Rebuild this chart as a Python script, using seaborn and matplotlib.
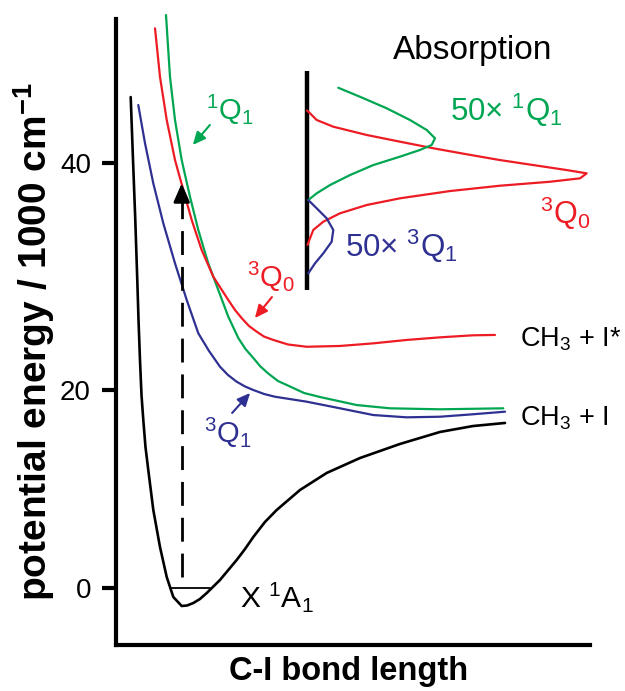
import numpy as np
import pandas as pd
import matplotlib
matplotlib.use("Agg")
import matplotlib.pyplot as plt
import seaborn as sns

# ---------------- data ----------------
# bond length in arbitrary units, energy in 1000 cm^-1
x_ground = [0.310, 0.359, 0.407, 0.449, 0.475, 0.506, 0.538, 0.576, 0.622, 0.681,
            0.787, 0.928, 1.070, 1.209, 1.386, 1.498, 1.631, 1.772, 1.914, 2.194,
            2.546, 2.722, 2.897, 3.143, 3.390, 3.882, 4.445, 5.148, 5.992, 6.835,
            7.532, 8.207]
e_ground = [45.81, 40.26, 34.98, 29.69, 26.17, 22.64, 19.49, 16.97, 14.24, 11.92,
            7.88, 4.14, 1.11, -0.91, -1.82, -1.77, -1.52, -1.11, -0.51, 0.81,
            2.83, 3.94, 5.15, 6.67, 7.88, 9.90, 11.62, 13.13, 14.55, 15.76,
            16.36, 16.67]

x_3q1 = [0.470, 0.612, 0.787, 0.998, 1.245, 1.492, 1.736, 1.962, 2.194, 2.363,
         2.546, 2.722, 2.897, 3.122, 3.354, 4.023, 4.726, 5.428, 6.133, 6.835,
         7.538, 8.207]
e_3q1 = [45.11, 41.74, 38.21, 34.69, 31.16, 27.93, 25.00, 23.44, 22.05, 21.32,
         20.73, 20.31, 20.00, 19.60, 19.32, 18.82, 18.15, 17.47, 17.24, 17.30,
         17.55, 17.81]

x_1q1 = [1.055, 1.139, 1.245, 1.386, 1.561, 1.736, 1.947, 2.158, 2.369, 2.580,
         2.732, 2.897, 3.038, 3.207, 3.418, 3.671, 3.966, 4.304, 5.078, 5.781,
         6.835, 8.171]
e_1q1 = [53.04, 47.60, 43.79, 40.26, 37.03, 34.10, 31.16, 28.81, 26.46, 24.58,
         23.61, 22.82, 22.11, 21.47, 20.79, 20.31, 19.70, 19.29, 18.48, 18.15,
         18.05, 18.15]

x_3q0 = [0.823, 0.928, 1.070, 1.245, 1.420, 1.597, 1.808, 2.053, 2.369, 2.511,
         2.658, 2.806, 2.968, 3.122, 3.319, 3.629, 4.023, 4.726, 5.428, 6.133,
         6.835, 7.538, 7.996]
e_3q0 = [51.87, 47.60, 43.79, 40.26, 37.62, 34.98, 32.33, 29.98, 27.93, 27.05,
         26.30, 25.64, 25.14, 24.71, 24.41, 24.01, 23.81, 23.88, 24.11, 24.41,
         24.64, 24.82, 24.85]

# absorption spectra: energy vs. intensity (arb. units)
abs_base = 4.023
abs_span = [28.81, 48.11]
e_abs_3q0 = [44.63, 44.38, 43.79, 43.20, 42.47, 41.88, 41.30, 40.77, 40.26, 39.82,
             39.38, 39.09, 38.65, 38.35, 38.00, 37.53, 36.89, 36.30, 35.57, 34.83,
             34.10, 33.37, 32.78]
i_abs_3q0 = [0.006, 0.070, 0.211, 0.561, 1.266, 1.968, 2.671, 3.376, 4.078, 4.781,
             5.485, 5.907, 5.766, 5.133, 4.078, 3.023, 1.968, 1.266, 0.703, 0.350,
             0.139, 0.070, 0.017]
e_abs_1q1 = [46.63, 45.84, 44.82, 43.79, 42.91, 42.18, 41.59, 41.15, 40.56, 39.82,
             38.94, 38.06, 37.33, 36.74]
i_abs_1q1 = [0.667, 1.124, 1.688, 2.179, 2.532, 2.707, 2.637, 2.390, 1.968, 1.405,
             0.914, 0.492, 0.211, 0.034]
e_abs_3q1 = [36.74, 36.01, 35.13, 34.10, 33.07, 32.04, 31.16, 30.28]
i_abs_3q1 = [0.034, 0.211, 0.422, 0.561, 0.527, 0.350, 0.175, 0.034]

# zero-point level and vertical excitation
zp_x = [1.139, 1.983]
zp_e = [0.0, 0.0]
exc_x = 1.386
exc_e = [1.14, 38.21]

yticks = [0, 20, 40]

RED = "#ed1c24"
GREEN = "#00a651"
BLUE = "#2e3192"

# ---------------- style ----------------
sns.set_style("ticks")
plt.rcParams["font.family"] = ["Liberation Sans", "DejaVu Sans"]
plt.rcParams["mathtext.fontset"] = "custom"
plt.rcParams["mathtext.rm"] = "Liberation Sans"
plt.rcParams["mathtext.it"] = "Liberation Sans"
plt.rcParams["mathtext.bf"] = "Liberation Sans:bold"
plt.rcParams["mathtext.default"] = "regular"
for k in ["text.color", "axes.labelcolor", "xtick.color", "ytick.color", "axes.edgecolor"]:
    plt.rcParams[k] = "black"

fig = plt.figure(figsize=(6.25, 6.91), dpi=100)
ax = fig.add_axes([116 / 625, 1 - 645 / 691, (590 - 116) / 625, (645 - 19) / 691])


# the schematic's energy axis is not linear: 0-20 is drawn shorter than 20-40
def fwd(e):
    e = np.asarray(e, dtype=float)
    return np.where(e <= 20, 9.9 * e, 198.0 + 11.35 * (e - 20))


def inv(u):
    u = np.asarray(u, dtype=float)
    return np.where(u <= 198.0, u / 9.9, 20 + (u - 198.0) / 11.35)


def curve(x, y, color, lw=1.6, clip=True):
    df = pd.DataFrame({"x": x, "y": y})
    sns.lineplot(data=df, x="x", y="y", sort=False, estimator=None, color=color,
                 lw=lw, ax=ax, clip_on=clip)


curve(x_ground, e_ground, "black", lw=1.9)
curve(x_3q1, e_3q1, BLUE)
curve(x_1q1, e_1q1, GREEN, clip=False)
curve(x_3q0, e_3q0, RED)

ax.plot(zp_x, zp_e, color="black", lw=1.3)

# absorption inset
ax.plot([abs_base, abs_base], abs_span, color="black", lw=3.2, solid_capstyle="butt")
curve([abs_base + v for v in i_abs_3q0], e_abs_3q0, RED)
curve([abs_base + v for v in i_abs_1q1], e_abs_1q1, GREEN)
curve([abs_base + v for v in i_abs_3q1], e_abs_3q1, BLUE)

# vertical excitation (dashed, with solid head)
ax.plot([exc_x, exc_x], [exc_e[0], exc_e[1] - 1.3], color="black", lw=2.0,
        ls=(0, (8.6, 4.3)))
ax.annotate("", xy=(exc_x, exc_e[1]), xytext=(exc_x, exc_e[1] - 1.6),
            arrowprops=dict(arrowstyle="-|>,head_length=0.8,head_width=0.35",
                            mutation_scale=14, color="black", lw=2.0,
                            shrinkA=0, shrinkB=0))


def small_arrow(x0, y0, x1, y1, color):
    ax.annotate("", xy=(x1, y1), xytext=(x0, y0),
                arrowprops=dict(arrowstyle="-|>,head_length=0.55,head_width=0.25",
                                mutation_scale=14, color=color, lw=1.5,
                                shrinkA=0, shrinkB=0))


ax.text(1.90, 43.79, r"$^1$Q$_1$", color=GREEN, fontsize=21, va="baseline", ha="left")
small_arrow(1.98, 43.35, 1.62, 41.59, GREEN)
ax.text(2.76, 29.07, r"$^3$Q$_0$", color=RED, fontsize=21, va="baseline", ha="left")
small_arrow(3.29, 28.19, 2.93, 26.34, RED)
ax.text(1.86, 14.65, r"$^3$Q$_1$", color=BLUE, fontsize=21, va="baseline", ha="left")
small_arrow(2.45, 17.68, 2.83, 19.70, BLUE)
ax.text(2.62, -1.92, r"X $^1$A$_1$", color="black", fontsize=21.5, va="baseline", ha="left")

ax.text(8.52, 23.79, r"CH$_3$ + I*", color="black", fontsize=19.5, va="baseline",
        ha="left", clip_on=False)
ax.text(8.52, 16.46, r"CH$_3$ + I", color="black", fontsize=19.5, va="baseline",
        ha="left", clip_on=False)

ax.text(7.53, 49.16, "Absorption", color="black", fontsize=24, va="baseline", ha="center")
ax.text(7.05, 43.70, r"50× $^1$Q$_1$", color=GREEN, fontsize=22.5, va="baseline", ha="left")
ax.text(8.95, 34.63, r"$^3$Q$_0$", color=RED, fontsize=22, va="baseline", ha="left")
ax.text(4.83, 31.72, r"50× $^3$Q$_1$", color=BLUE, fontsize=22.5, va="baseline", ha="left")

# axes
ax.set_yscale("function", functions=(fwd, inv))
ax.set_xlim(0, 10)
ax.set_ylim(-5.76, 52.69)
ax.set_xticks([])
ax.set_yticks(yticks)
ax.set_yticklabels([str(t) for t in yticks])
ax.yaxis.set_minor_locator(matplotlib.ticker.NullLocator())
ax.tick_params(axis="y", direction="out", length=10, width=3, pad=8, labelsize=20)
for side in ["top", "right"]:
    ax.spines[side].set_visible(False)
for side in ["left", "bottom"]:
    ax.spines[side].set_linewidth(3)
ax.set_facecolor("white")

ax.set_xlabel("C-I bond length", fontsize=23.5, fontweight="bold")
ax.set_ylabel(r"potential energy / 1000 cm$^{\mathbf{-1}}$", fontsize=28, fontweight="bold")
ax.xaxis.set_label_coords(0.49, -0.018)
ax.xaxis.label.set_va("top")
ax.yaxis.set_label_coords(-0.125, 0.484)

fig.savefig("out.png", dpi=100, facecolor="white")
